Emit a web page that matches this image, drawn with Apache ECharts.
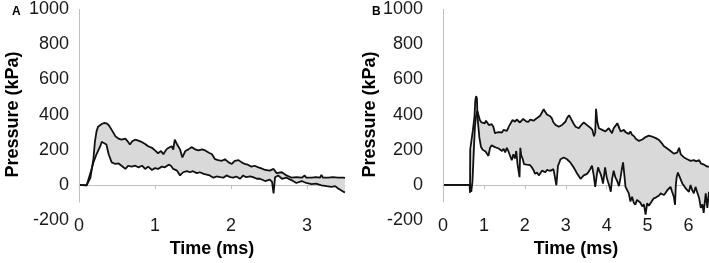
<!DOCTYPE html>
<html>
<head>
<meta charset="utf-8">
<script src="https://cdn.jsdelivr.net/npm/echarts@6/dist/echarts.min.js"></script>
<style>
  html, body { margin: 0; padding: 0; background: #fff; }
  #chart { width: 709px; height: 263px; }
</style>
</head>
<body>
<div id="chart"></div>
<script>
// panel A traces [time ms, pressure kPa]
var aUpper = [[0,0],[0.1,-3],[0.12,-5],[0.15,40],[0.19,150],[0.21,248],[0.23,303],[0.25,331],[0.30,346],[0.33,352],[0.36,350],[0.39,341],[0.43,313],[0.48,276],[0.52,263],[0.56,257],[0.61,263],[0.64,248],[0.67,230],[0.70,248],[0.74,257],[0.78,252],[0.83,243],[0.87,233],[0.91,220],[0.96,211],[1.0,196],[1.04,180],[1.08,193],[1.11,174],[1.15,202],[1.18,211],[1.22,220],[1.24,200],[1.26,257],[1.29,230],[1.31,239],[1.33,202],[1.36,156],[1.40,193],[1.44,202],[1.48,215],[1.53,202],[1.57,196],[1.62,202],[1.66,196],[1.71,183],[1.75,174],[1.79,146],[1.83,141],[1.88,137],[1.92,146],[1.97,128],[2.01,119],[2.05,137],[2.10,141],[2.14,128],[2.18,119],[2.22,115],[2.27,104],[2.31,109],[2.36,100],[2.40,94],[2.45,85],[2.51,81],[2.56,91],[2.60,67],[2.67,72],[2.73,54],[2.80,41],[2.86,44],[2.93,41],[2.97,54],[2.99,41],[3.06,41],[3.12,44],[3.17,41],[3.19,57],[3.21,41],[3.28,41],[3.34,44],[3.41,41],[3.48,41],[3.5,40]];
var aLower = [[0,0],[0.1,-3],[0.12,-5],[0.15,67],[0.19,128],[0.23,174],[0.28,220],[0.30,245],[0.32,252],[0.36,230],[0.39,174],[0.43,128],[0.48,119],[0.52,122],[0.56,109],[0.61,91],[0.65,109],[0.69,104],[0.74,109],[0.78,100],[0.83,109],[0.87,91],[0.91,104],[0.96,85],[1.0,96],[1.04,91],[1.09,104],[1.13,100],[1.18,115],[1.21,109],[1.24,91],[1.29,81],[1.33,54],[1.37,72],[1.42,78],[1.46,72],[1.50,78],[1.55,67],[1.59,72],[1.64,63],[1.68,59],[1.72,54],[1.77,41],[1.81,48],[1.86,44],[1.90,41],[1.94,54],[1.99,44],[2.03,41],[2.07,48],[2.12,35],[2.16,54],[2.20,44],[2.25,48],[2.29,44],[2.34,35],[2.38,35],[2.45,22],[2.51,30],[2.54,17],[2.56,-48],[2.58,44],[2.62,54],[2.67,35],[2.73,41],[2.80,26],[2.86,11],[2.93,22],[2.99,11],[3.06,4],[3.12,7],[3.19,-2],[3.26,-7],[3.32,-11],[3.37,-7],[3.41,-20],[3.48,-39],[3.5,-42]];

// panel B traces
var bUpper = [[0,0],[0.66,0],[0.69,-40],[0.72,20],[0.75,180],[0.78,330],[0.81,395],[0.84,420],[0.87,395],[0.90,369],[0.94,355],[0.98,359],[1.02,350],[1.05,365],[1.09,363],[1.12,340],[1.15,350],[1.19,345],[1.23,331],[1.27,294],[1.31,285],[1.36,300],[1.40,304],[1.44,298],[1.48,313],[1.52,305],[1.56,307],[1.61,331],[1.65,320],[1.70,369],[1.76,359],[1.80,372],[1.84,378],[1.88,355],[1.92,359],[1.96,375],[2.0,369],[2.04,360],[2.09,359],[2.13,372],[2.17,378],[2.21,365],[2.25,369],[2.30,380],[2.34,387],[2.38,395],[2.42,406],[2.46,430],[2.50,415],[2.54,400],[2.58,396],[2.62,390],[2.66,378],[2.70,355],[2.75,341],[2.79,345],[2.83,331],[2.87,335],[2.91,341],[2.95,350],[2.99,359],[3.03,380],[3.08,396],[3.12,380],[3.16,369],[3.20,345],[3.24,331],[3.28,325],[3.32,322],[3.36,335],[3.40,341],[3.44,355],[3.48,350],[3.52,340],[3.56,331],[3.60,325],[3.65,313],[3.69,276],[3.72,300],[3.74,433],[3.77,359],[3.81,322],[3.85,318],[3.89,313],[3.93,320],[3.97,304],[4.01,310],[4.05,322],[4.09,313],[4.13,294],[4.17,322],[4.21,330],[4.26,350],[4.30,359],[4.34,304],[4.38,310],[4.42,313],[4.46,300],[4.50,294],[4.54,290],[4.58,304],[4.62,285],[4.67,276],[4.71,262],[4.75,257],[4.79,250],[4.83,248],[4.87,258],[4.91,267],[4.95,272],[4.99,276],[5.03,280],[5.07,281],[5.11,275],[5.15,270],[5.20,266],[5.24,263],[5.28,255],[5.32,248],[5.36,233],[5.40,220],[5.44,212],[5.48,207],[5.52,200],[5.56,193],[5.60,185],[5.64,178],[5.68,180],[5.72,183],[5.77,211],[5.81,174],[5.85,165],[5.89,156],[5.93,150],[5.97,146],[6.01,140],[6.05,137],[6.09,135],[6.13,141],[6.18,134],[6.22,128],[6.26,141],[6.30,122],[6.34,118],[6.38,115],[6.42,110],[6.46,104],[6.50,104]];
var bLower = [[0,0],[0.65,0],[0.66,-45],[0.665,200],[0.71,205],[0.73,310],[0.77,390],[0.79,480],[0.81,505],[0.83,490],[0.84,400],[0.86,340],[0.89,267],[0.93,215],[0.97,200],[1.0,209],[1.04,190],[1.07,183],[1.11,165],[1.15,211],[1.19,225],[1.23,230],[1.27,215],[1.31,220],[1.36,207],[1.40,200],[1.44,193],[1.48,205],[1.52,185],[1.56,211],[1.60,190],[1.64,183],[1.68,140],[1.72,174],[1.76,150],[1.79,193],[1.82,120],[1.85,109],[1.87,44],[1.89,211],[1.91,170],[1.95,146],[1.98,118],[2.01,128],[2.05,115],[2.09,109],[2.13,112],[2.17,100],[2.21,85],[2.25,63],[2.30,70],[2.34,54],[2.38,65],[2.42,81],[2.46,70],[2.50,72],[2.54,85],[2.58,91],[2.62,80],[2.66,72],[2.70,90],[2.73,100],[2.77,-2],[2.81,109],[2.84,125],[2.87,146],[2.91,150],[2.95,156],[2.99,150],[3.03,146],[3.07,140],[3.11,128],[3.15,115],[3.19,100],[3.23,85],[3.28,63],[3.32,50],[3.36,35],[3.40,45],[3.44,54],[3.48,58],[3.52,63],[3.56,75],[3.60,91],[3.64,109],[3.68,60],[3.72,-11],[3.76,60],[3.79,100],[3.82,80],[3.85,63],[3.88,40],[3.91,7],[3.94,60],[3.96,100],[4.00,44],[4.03,20],[4.07,-10],[4.10,-39],[4.13,30],[4.17,81],[4.21,44],[4.26,20],[4.30,-7],[4.34,44],[4.37,90],[4.40,128],[4.43,60],[4.46,-11],[4.50,-30],[4.54,-48],[4.58,-94],[4.62,-67],[4.66,-100],[4.70,-113],[4.74,-85],[4.78,-94],[4.82,-100],[4.87,-122],[4.91,-110],[4.95,-169],[4.99,-104],[5.03,-118],[5.07,-113],[5.11,-90],[5.15,-76],[5.20,-72],[5.24,-67],[5.28,-60],[5.32,-48],[5.36,-40],[5.40,-57],[5.44,-45],[5.48,-30],[5.52,-40],[5.56,-11],[5.60,-40],[5.64,-67],[5.67,-113],[5.69,0],[5.71,44],[5.74,70],[5.77,63],[5.81,30],[5.85,7],[5.89,-5],[5.93,-20],[5.97,-30],[6.01,-39],[6.05,0],[6.09,-30],[6.13,-48],[6.17,-11],[6.21,-40],[6.26,-76],[6.30,-130],[6.34,-110],[6.37,-159],[6.42,-48],[6.46,-130],[6.50,-39]];

var aTicks = [0, 1, 2, 3];
var bTicks = [0, 1, 2, 3, 4, 5, 6];
var yMin = -200, yMax = 1000, yStep = 200;
var xAxisAt = -100;

var font = 'Liberation Sans, Arial, sans-serif';
var axisGray = '#bfbfbf';

function xAxisFor(idx, max, ticks) {
    return {
        type: 'value', gridIndex: idx, min: 0, max: max,
        offset: -18,
        axisLine: {lineStyle: {color: axisGray, width: 1}},
        axisTick: {show: true, length: 4, inside: false, customValues: ticks, lineStyle: {color: axisGray}},
        axisLabel: {customValues: ticks, fontSize: 18, color: '#1a1a1a', fontFamily: font, margin: 15},
        splitLine: {show: false},
        name: 'Time (ms)', nameLocation: 'middle', nameGap: 32,
        nameTextStyle: {fontSize: 18, fontWeight: 'bold', color: '#000', fontFamily: font}
    };
}

function yAxisFor(idx, margin) {
    return {
        type: 'value', gridIndex: idx, min: yMin, max: yMax, interval: yStep,
        axisLine: {show: false},
        axisTick: {show: false},
        splitLine: {show: false},
        axisLabel: {
            fontSize: 18, color: '#1a1a1a', fontFamily: font, margin: margin,
            formatter: function (v) { return String(v); }
        },
        name: 'Pressure (kPa)', nameLocation: 'middle', nameGap: 57,
        nameTextStyle: {fontSize: 18, fontWeight: 'bold', color: '#000', fontFamily: font}
    };
}

function band(idx, upper, lower) {
    return {
        type: 'custom', xAxisIndex: idx, yAxisIndex: idx, silent: true, z: 1,
        data: [[0, 0]],
        renderItem: function (params, api) {
            var pts = upper.map(function (p) { return api.coord(p); })
                .concat(lower.slice().reverse().map(function (p) { return api.coord(p); }));
            return {type: 'polygon', shape: {points: pts}, style: {fill: '#d9d9d9'}};
        }
    };
}

function trace(idx, data, withAxis) {
    var s = {
        type: 'line', xAxisIndex: idx, yAxisIndex: idx, data: data,
        showSymbol: false, symbol: 'none', z: 3,
        lineStyle: {color: '#111', width: 1.8}
    };
    if (withAxis) {
        // vertical axis line only runs from the x axis (-100) up to the top
        s.markLine = {
            silent: true, symbol: ['none', 'none'], label: {show: false},
            lineStyle: {color: axisGray, width: 1, type: 'solid'},
            data: [[{coord: [0, xAxisAt]}, {coord: [0, yMax]}]]
        };
    }
    return s;
}

var chart = echarts.init(document.getElementById('chart'));
chart.setOption({
    animation: false,
    title: [
        {text: 'A', left: 7, top: 1, textStyle: {fontSize: 12, fontWeight: 'bold', color: '#000', fontFamily: font}},
        {text: 'B', left: 367, top: 1, textStyle: {fontSize: 12, fontWeight: 'bold', color: '#000', fontFamily: font}}
    ],
    grid: [
        {left: 79, top: 8, width: 266, height: 216},
        {left: 443, top: 8, width: 266, height: 216}
    ],
    xAxis: [xAxisFor(0, 3.5, aTicks), xAxisFor(1, 6.5, bTicks)],
    yAxis: [yAxisFor(0, 10), yAxisFor(1, 20)],
    series: [
        band(0, aUpper, aLower),
        trace(0, aLower, true),
        trace(0, aUpper, false),
        band(1, bUpper, bLower),
        trace(1, bLower, true),
        trace(1, bUpper, false)
    ]
});
</script>
</body>
</html>
